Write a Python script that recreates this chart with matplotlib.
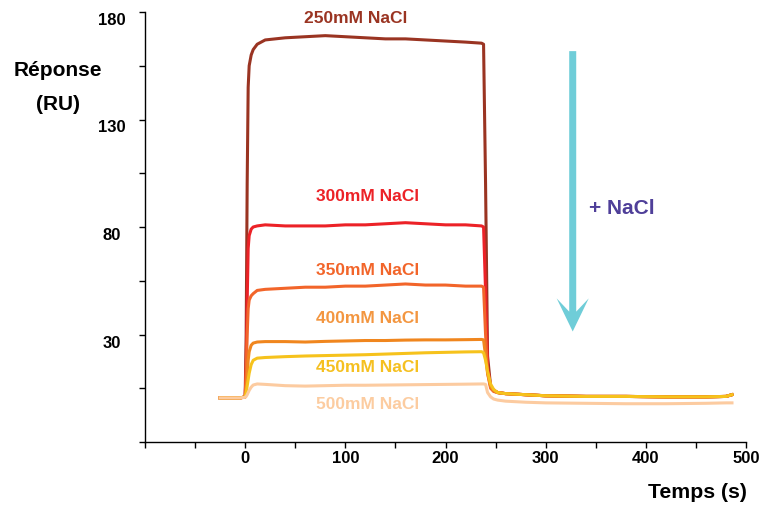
import matplotlib
matplotlib.use("Agg")
import matplotlib.pyplot as plt
from matplotlib.patches import FancyArrow
from matplotlib.transforms import ScaledTranslation

plt.rcParams['font.family'] = ['Liberation Sans', 'DejaVu Sans']
plt.rcParams['font.weight'] = 'bold'

# time grid (s)
t = [-25, -5, 0, 1, 2, 3, 4, 6, 8, 12, 20, 40, 60, 80, 100, 120, 140, 160, 180, 200,
     220, 236, 238, 240, 242, 245, 248, 252, 260, 280, 300, 340, 380, 420, 460, 480, 486]

y250 = [0.5, 0.5, 1, 30, 100, 145, 155, 160, 162.5, 165, 167, 168, 168.5, 169, 168.5, 168,
        167.5, 167.5, 167, 166.5, 166, 165.5, 165, 100, 20, 6, 4, 3, 2.5, 2, 1.5, 1.2, 1.2,
        1, 1, 1.2, 2]
y300 = [0.5, 0.5, 1, 15, 45, 70, 76, 79, 80, 80.5, 81, 80.5, 80.5, 80.5, 81, 81, 81.5, 82,
        81.5, 81, 81, 80.5, 80, 50, 15, 6, 4, 3, 2.5, 2, 1.5, 1.2, 1.2, 1, 1, 1.2, 2]
y350 = [0.5, 0.5, 1, 12, 30, 42, 46, 48, 49, 50.5, 51, 51.5, 52, 52, 52.5, 52.5, 53, 53.5,
        53, 53, 52.5, 52.5, 52, 30, 12, 5, 3.5, 3, 2.5, 2, 1.5, 1.2, 1.2, 1, 1, 1.2, 2]
y400 = [0.5, 0.5, 1, 5, 10, 18, 22, 25, 26, 26.5, 26.7, 26.7, 26.5, 26.8, 27, 27.2, 27.2,
        27.4, 27.5, 27.5, 27.6, 27.7, 27.5, 20, 12, 6, 4, 3, 2.5, 2, 1.5, 1.2, 1.2, 1, 1, 1.2, 2]
y450 = [0.5, 0.5, 1, 3, 6, 9, 12, 16, 18, 19, 19.3, 19.7, 20, 20.2, 20.4, 20.6, 20.9, 21.2,
        21.5, 21.7, 21.9, 22, 21.5, 18, 13, 7, 4.5, 3, 2.5, 2, 1.5, 1.2, 1.2, 1, 1, 1.2, 2]
y500 = [0.5, 0.5, 0.8, 1.2, 2, 3, 4, 5.5, 6.5, 7, 6.8, 6.2, 6, 6.2, 6.4, 6.4, 6.5, 6.6, 6.7,
        6.8, 6.9, 7, 7, 6.8, 3, 1, 0, -0.5, -1, -1.5, -1.8, -2, -2.2, -2.2, -2, -1.8, -1.8]

series = [y250, y300, y350, y400, y450, y500]
labels = ['250mM NaCl', '300mM NaCl', '350mM NaCl', '400mM NaCl', '450mM NaCl', '500mM NaCl']
line_colors = ['#9A3422', '#EC2227', '#F2652A', '#F0861E', '#F6C21C', '#FCCBA0']
label_colors = ['#9A3422', '#EC2227', '#F2652A', '#F39640', '#F5C020', '#FCCCA0']
label_x = [110, 122, 122, 122, 122, 122]
label_y = [177.5, 94.5, 60.4, 38, 15, -2.2]

yticks = [30, 80, 130, 180]
yminor = [-20, 5, 55, 105, 155]
xticks = [0, 100, 200, 300, 400, 500]
xminor = [-100, -50, 50, 150, 250, 350, 450]

fig = plt.figure(figsize=(7.69, 5.06), dpi=100)
ax = fig.add_axes([145/769, 1-443/506, (746-145)/769, (443-13)/506])

for ys, c in zip(series, line_colors):
    ax.plot(t, ys, color=c, lw=2.2, solid_joinstyle='round')

for lab, c, lx, ly in zip(labels, label_colors, label_x, label_y):
    ax.text(lx, ly, lab, color=c, fontsize=12.5, fontweight='bold', ha='center', va='center')

# arrow
arr = FancyArrow(327, 161.8, 0, 31.4 - 161.8, width=7, head_width=32, head_length=15.4,
                 length_includes_head=True, overhang=0.4, color='#6FCDD8', lw=0)
ax.add_patch(arr)
ax.text(343, 89, '+ NaCl', color='#4F3F99', fontsize=15, fontweight='bold', ha='left', va='center')

ax.set_xlim(-100, 500)
ax.set_ylim(-20, 180)
ax.spines['top'].set_visible(False)
ax.spines['right'].set_visible(False)
for s in ['left', 'bottom']:
    ax.spines[s].set_linewidth(1.0)

ax.set_yticks(yticks)
ax.set_yticks(yminor, minor=True)
ax.set_xticks(xticks)
ax.set_xticks(xminor, minor=True)
ax.tick_params(which='both', direction='out', length=4, width=1.0, color='black')
ax.tick_params(axis='y', which='major', labelsize=12, pad=20)
ax.tick_params(axis='x', which='major', labelsize=12, pad=2)
ax.set_yticklabels([str(v) for v in yticks])
ax.set_xticklabels([str(v) for v in xticks])
off = ScaledTranslation(0, -6/100, fig.dpi_scale_trans)
for lbl in ax.get_yticklabels():
    lbl.set_ha('center')
    lbl.set_fontweight('bold')
    lbl.set_transform(lbl.get_transform() + off)
for lbl in ax.get_xticklabels():
    lbl.set_fontweight('bold')

fig.text(57.5/769, 1-70/506, 'Réponse', fontsize=15, fontweight='bold', ha='center', va='center')
fig.text(58/769, 1-105/506, '(RU)', fontsize=15, fontweight='bold', ha='center', va='center')
fig.text(747/769, 1-493/506, 'Temps (s)', fontsize=15.3, fontweight='bold', ha='right', va='center')

fig.savefig('out.png', dpi=100)
